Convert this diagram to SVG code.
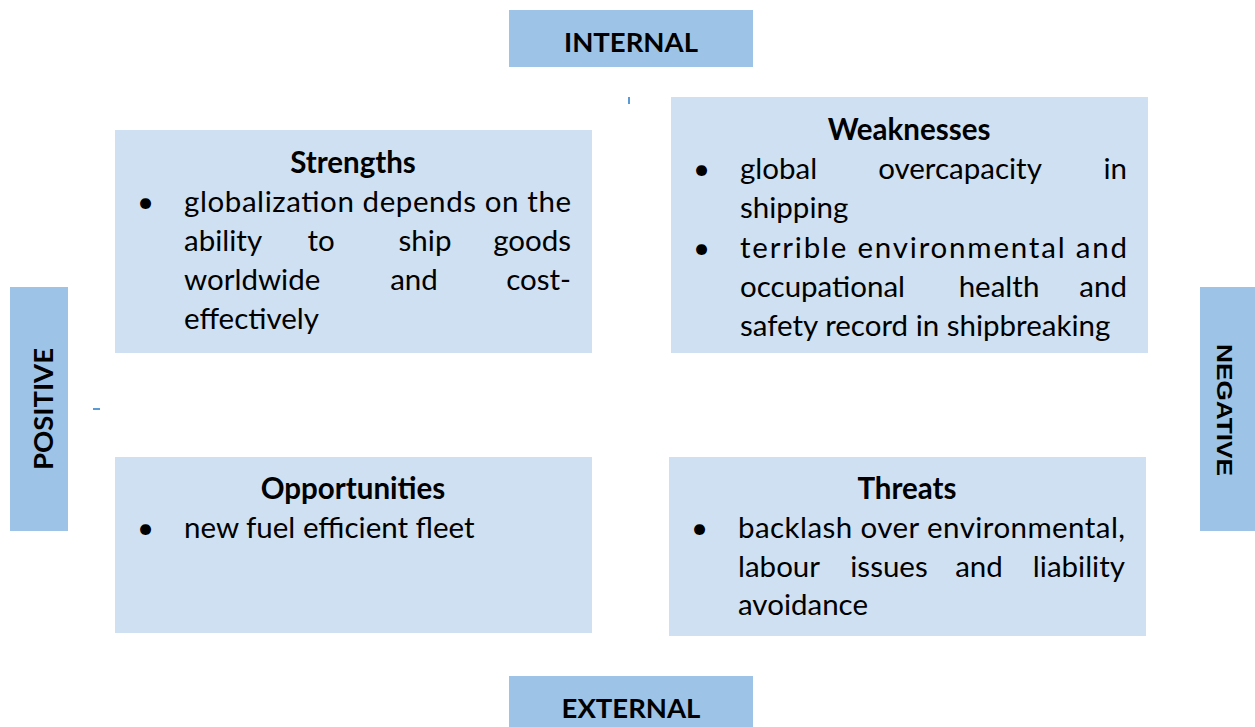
<svg xmlns="http://www.w3.org/2000/svg" width="1255" height="727" viewBox="0 0 1255 727">
<style>
.hdr{fill:#9DC3E6}
.box{fill:#CFE0F2}
.tick{stroke:#5B9BD5;stroke-width:2}
text{font-family:Lato,"Open Sans","Liberation Sans",sans-serif;fill:#000}
.t{font-size:29.5px;font-weight:bold;text-anchor:middle}
.b{font-size:29.5px}
.h{font-size:27.5px;font-weight:bold;text-anchor:middle}
.m{text-anchor:middle}
.e{text-anchor:end}
</style>
<rect width="1255" height="727" fill="#fff"/>
<g id="internal"><rect class="hdr" x="509" y="10" width="244" height="57"/><text class="h" x="631" y="52">INTERNAL</text></g>
<g id="external"><rect class="hdr" x="509" y="676" width="244" height="51"/><text class="h" x="631" y="718">EXTERNAL</text></g>
<g id="positive"><rect class="hdr" x="10" y="287" width="58" height="244"/><text class="h" transform="translate(53,409) rotate(-90)">POSITIVE</text></g>
<g id="negative"><rect class="hdr" x="1200" y="287" width="55" height="244"/><text style="font-family:'Liberation Sans',sans-serif;font-size:22px;font-weight:bold;text-anchor:middle" textLength="132" lengthAdjust="spacingAndGlyphs" transform="translate(1217,410) rotate(90)">NEGATIVE</text></g>
<g id="connectors"><line class="tick" x1="629" y1="97" x2="629" y2="104"/><line class="tick" x1="93" y1="409" x2="100" y2="409"/></g>
<g id="strengths">
<rect class="box" x="115" y="130" width="477" height="223"/>
<text class="t" x="353" y="173">Strengths</text>
<text class="b" x="137" y="212">•</text>
<text class="b" x="184" y="212" textLength="387" lengthAdjust="spacing">globalization depends on the</text>
<text class="b" x="184" y="251">ability</text><text class="b m" x="321" y="251">to</text><text class="b m" x="425" y="251">ship</text><text class="b e" x="571" y="251">goods</text>
<text class="b" x="184" y="290">worldwide</text><text class="b m" x="414" y="290">and</text><text class="b e" x="571" y="290">cost-</text>
<text class="b" x="184" y="329">effectively</text>
</g>
<g id="weaknesses">
<rect class="box" x="671" y="97" width="477" height="256"/>
<text class="t" x="909" y="140">Weaknesses</text>
<text class="b" x="693" y="179">•</text>
<text class="b" x="740" y="179">global</text><text class="b m" x="960" y="179">overcapacity</text><text class="b e" x="1127" y="179">in</text>
<text class="b" x="740" y="218">shipping</text>
<text class="b" x="693" y="258">•</text>
<text class="b" x="740" y="258" textLength="387" lengthAdjust="spacing">terrible environmental and</text>
<text class="b" x="740" y="297">occupational</text><text class="b m" x="999" y="297">health</text><text class="b e" x="1127" y="297">and</text>
<text class="b" x="740" y="336">safety record in shipbreaking</text>
</g>
<g id="opportunities">
<rect class="box" x="115" y="457" width="477" height="176"/>
<text class="t" x="353" y="499">Opportunities</text>
<text class="b" x="137" y="538">•</text>
<text class="b" x="184" y="538">new fuel efficient fleet</text>
</g>
<g id="threats">
<rect class="box" x="669" y="457" width="477" height="179"/>
<text class="t" x="907" y="499">Threats</text>
<text class="b" x="691" y="538">•</text>
<text class="b" x="738" y="538" textLength="387" lengthAdjust="spacing">backlash over environmental,</text>
<text class="b" x="738" y="577">labour</text><text class="b m" x="889" y="577">issues</text><text class="b m" x="979" y="577">and</text><text class="b e" x="1125" y="577">liability</text>
<text class="b" x="738" y="615">avoidance</text>
</g>
</svg>
